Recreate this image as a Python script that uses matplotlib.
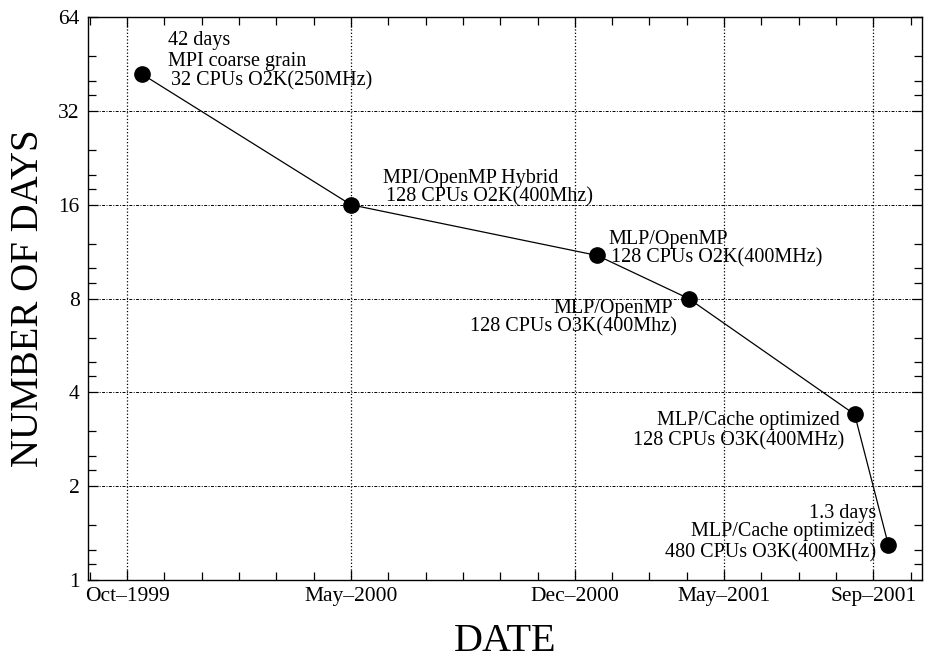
import numpy as np
import matplotlib
matplotlib.use('Agg')
import matplotlib.pyplot as plt
from matplotlib.ticker import FixedLocator, NullFormatter

# data (x in tick units, y = number of days)
x_pos = [0.4, 6.0, 12.6, 15.05, 19.5, 20.4]
days = [42, 16, 11, 8, 3.4, 1.3]

date_ticks = [0, 6, 12, 16, 20]
date_labels = ['Oct\u20131999', 'May\u20132000', 'Dec\u20132000', 'May\u20132001', 'Sep\u20132001']

day_ticks = [1, 2, 4, 8, 16, 32, 64]

# annotation lines: (x, y, text, alignment)
notes = [
    (1.10, 53.7, '42 days', 'left'),
    (1.10, 46.0, 'MPI coarse grain', 'left'),
    (1.18, 39.9, '32 CPUs O2K(250MHz)', 'left'),
    (6.85, 19.5, 'MPI/OpenMP Hybrid', 'left'),
    (6.93, 16.95, '128 CPUs O2K(400Mhz)', 'left'),
    (12.91, 12.34, 'MLP/OpenMP', 'left'),
    (12.97, 10.8, '128 CPUs O2K(400MHz)', 'left'),
    (14.63, 7.41, 'MLP/OpenMP', 'right'),
    (14.74, 6.49, '128 CPUs O3K(400Mhz)', 'right'),
    (19.11, 3.26, 'MLP/Cache optimized', 'right'),
    (19.22, 2.79, '128 CPUs O3K(400MHz)', 'right'),
    (20.08, 1.64, '1.3 days', 'right'),
    (20.00, 1.426, 'MLP/Cache optimized', 'right'),
    (20.08, 1.22, '480 CPUs O3K(400MHz)', 'right'),
]

plt.rcParams['font.family'] = ['Liberation Serif', 'DejaVu Serif']

fig = plt.figure(figsize=(9.26, 6.6), dpi=100)
ax = fig.add_axes([0.095, 0.1212, 0.9005, 0.8528])

ax.plot(x_pos, days, color='black', linewidth=0.9, marker='o',
        markersize=11, markerfacecolor='black', zorder=3)

ax.set_yscale('log', base=2)
ax.set_ylim(1, 64)
ax.set_xlim(-1.05, 21.3)

ax.yaxis.set_major_locator(FixedLocator(day_ticks))
ax.set_yticklabels([str(d) for d in day_ticks])
minor_y = []
for b in day_ticks[:-1]:
    minor_y += [b * 1.125, b * 1.25, b * 1.5]
ax.yaxis.set_minor_locator(FixedLocator(minor_y))
ax.yaxis.set_minor_formatter(NullFormatter())

ax.set_xticks(date_ticks)
ax.set_xticklabels(date_labels)
ax.xaxis.set_minor_locator(FixedLocator(np.arange(-1, 22, 1)))

ax.tick_params(which='both', direction='in', top=True, right=True,
               labelsize=15.5, width=0.9)
ax.tick_params(which='major', length=7)
ax.tick_params(which='minor', length=6)
ax.tick_params(axis='x', pad=5)
ax.tick_params(axis='y', pad=6)

ax.xaxis.grid(True, linestyle=':', color='black', linewidth=0.9)
ax.yaxis.grid(True, linestyle=(0, (3, 1.5, 1, 1.5)), color='black', linewidth=0.7)

for s in ax.spines.values():
    s.set_linewidth(1.0)

for x, y, t, ha in notes:
    ax.text(x, y, t, ha=ha, va='center', fontsize=14.5)

ax.set_ylabel('NUMBER OF DAYS', fontsize=28, labelpad=8)
ax.set_xlabel('DATE', fontsize=29, labelpad=12)

plt.savefig('out.png', dpi=100)
